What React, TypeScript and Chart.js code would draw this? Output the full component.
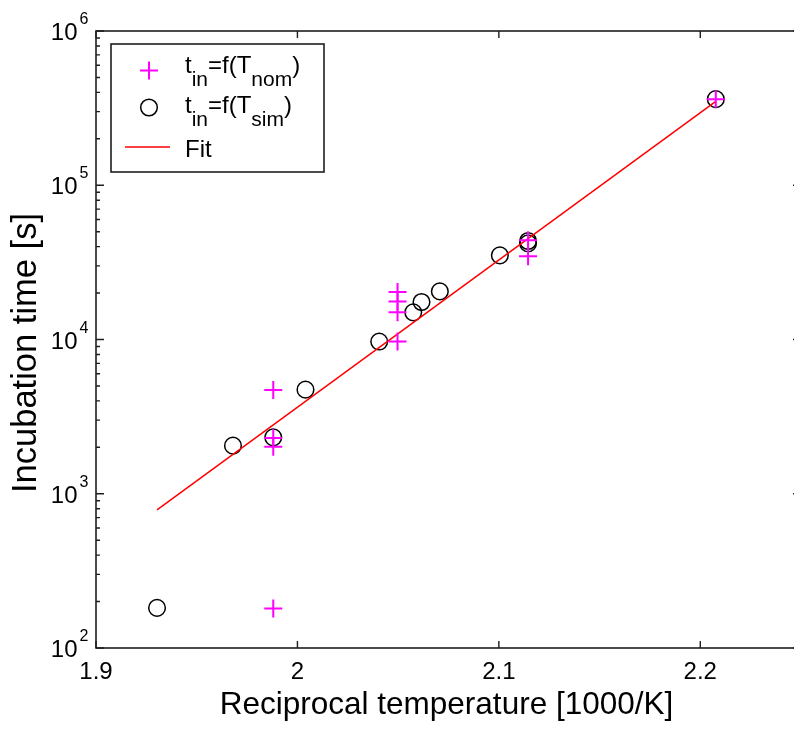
import React, { useEffect, useRef } from "react";
import { Chart, registerables } from "chart.js";

Chart.register(...registerables);

// ---- data ----
const NOM_X = [1.988, 1.988, 1.988, 1.988, 2.0497, 2.0497, 2.0497, 2.0497, 2.1145, 2.1145, 2.2077];
const NOM_Y = [180, 2020, 2300, 4710, 9700, 15000, 17650, 20300, 34600, 44000, 361500];

const SIM_X = [1.9303, 1.968, 1.988, 2.004, 2.0406, 2.0575, 2.0616, 2.0707, 2.1005, 2.1145, 2.1145, 2.2077];
const SIM_Y = [182, 2050, 2320, 4730, 9700, 15000, 17500, 20500, 35100, 43500, 42000, 361500];

const FIT_X = [1.9303, 2.2077];
const FIT_Y = [785, 350000];

const X_TICKS = [1.9, 2.0, 2.1, 2.2];
const X_TICK_LABELS = ["1.9", "2", "2.1", "2.2"];
const Y_DECADES = [2, 3, 4, 5, 6];

const X_TITLE = "Reciprocal temperature [1000/K]";
const Y_TITLE = "Incubation time [s]";

const LEGEND_NOM = [
  { t: "t", sub: false },
  { t: "in", sub: true },
  { t: "=f(T", sub: false },
  { t: "nom", sub: true },
  { t: ")", sub: false },
];
const LEGEND_SIM = [
  { t: "t", sub: false },
  { t: "in", sub: true },
  { t: "=f(T", sub: false },
  { t: "sim", sub: true },
  { t: ")", sub: false },
];
const LEGEND_FIT = [{ t: "Fit", sub: false }];

const FONT = '"Liberation Sans", Arial, Helvetica, sans-serif';
const MAGENTA = "#ff00ff";
const AXIS = "#1e1e1e";

function drawRich(ctx: CanvasRenderingContext2D, x: number, y: number, parts: { t: string; sub: boolean }[]) {
  let cx = x;
  for (const p of parts) {
    ctx.font = p.sub ? `21px ${FONT}` : `24px ${FONT}`;
    ctx.textAlign = "left";
    ctx.textBaseline = "alphabetic";
    ctx.fillText(p.t, cx, p.sub ? y + 13 : y);
    cx += ctx.measureText(p.t).width;
  }
}

const decorPlugin = {
  id: "matlabDecor",
  afterDraw(chart: any) {
    const ctx: CanvasRenderingContext2D = chart.ctx;
    const ca = chart.chartArea;
    const xs = chart.scales.x;
    const ys = chart.scales.y;
    ctx.save();

    // axes box
    ctx.strokeStyle = AXIS;
    ctx.lineWidth = 1.6;
    ctx.strokeRect(ca.left, ca.top, ca.right - ca.left, ca.bottom - ca.top);

    // x ticks (inward)
    ctx.lineWidth = 1.4;
    for (const v of X_TICKS) {
      const px = xs.getPixelForValue(v);
      ctx.beginPath();
      ctx.moveTo(px, ca.bottom);
      ctx.lineTo(px, ca.bottom - 7);
      ctx.moveTo(px, ca.top);
      ctx.lineTo(px, ca.top + 7);
      ctx.stroke();
    }
    // y ticks (inward, major + minor)
    for (const k of Y_DECADES) {
      for (let m = 1; m <= 9; m++) {
        if (k === 6 && m > 1) break;
        const py = ys.getPixelForValue(m * Math.pow(10, k));
        const len = m === 1 ? 8 : 4;
        ctx.beginPath();
        ctx.moveTo(ca.left, py);
        ctx.lineTo(ca.left + len, py);
        ctx.moveTo(ca.right, py);
        ctx.lineTo(ca.right - len, py);
        ctx.stroke();
      }
    }

    // x tick labels
    ctx.fillStyle = "#000";
    ctx.font = `24px ${FONT}`;
    ctx.textAlign = "center";
    ctx.textBaseline = "alphabetic";
    X_TICKS.forEach((v, i) => {
      ctx.fillText(X_TICK_LABELS[i], xs.getPixelForValue(v), ca.bottom + 31);
    });

    // y tick labels 10^k
    for (const k of Y_DECADES) {
      const py = ys.getPixelForValue(Math.pow(10, k));
      ctx.font = `24px ${FONT}`;
      ctx.textAlign = "right";
      ctx.fillText("10", ca.left - 18.5, py + 9);
      ctx.font = `16px ${FONT}`;
      ctx.textAlign = "left";
      ctx.fillText(String(k), ca.left - 16.5, py - 7);
    }

    // axis titles
    ctx.font = `31.5px ${FONT}`;
    ctx.textAlign = "center";
    ctx.fillText(X_TITLE, 446.5, 714);
    ctx.save();
    ctx.translate(36, 353);
    ctx.rotate(-Math.PI / 2);
    ctx.font = `34.5px ${FONT}`;
    ctx.fillText(Y_TITLE, 0, 0);
    ctx.restore();

    // legend
    const lx = 111, ly = 44, lw = 213, lh = 128;
    ctx.fillStyle = "#fff";
    ctx.fillRect(lx, ly, lw, lh);
    ctx.strokeStyle = AXIS;
    ctx.lineWidth = 1.6;
    ctx.strokeRect(lx, ly, lw, lh);

    // plus marker
    ctx.strokeStyle = MAGENTA;
    ctx.lineWidth = 2;
    ctx.beginPath();
    ctx.moveTo(140, 70.5);
    ctx.lineTo(158, 70.5);
    ctx.moveTo(149, 61.5);
    ctx.lineTo(149, 79.5);
    ctx.stroke();
    // circle marker
    ctx.strokeStyle = "#000";
    ctx.lineWidth = 1.5;
    ctx.beginPath();
    ctx.arc(149, 107.5, 8.3, 0, Math.PI * 2);
    ctx.stroke();
    // fit line
    ctx.strokeStyle = "#ff0000";
    ctx.lineWidth = 1.5;
    ctx.beginPath();
    ctx.moveTo(125, 147);
    ctx.lineTo(170, 147);
    ctx.stroke();

    ctx.fillStyle = "#000";
    drawRich(ctx, 185, 73, LEGEND_NOM);
    drawRich(ctx, 185, 113, LEGEND_SIM);
    drawRich(ctx, 185, 157, LEGEND_FIT);

    ctx.restore();
  },
};

export default function App() {
  const ref = useRef<HTMLCanvasElement | null>(null);

  useEffect(() => {
    if (!ref.current) return;
    const chart = new Chart(ref.current, {
      type: "scatter",
      data: {
        datasets: [
          {
            label: "nom",
            data: NOM_X.map((x, i) => ({ x, y: NOM_Y[i] })),
            pointStyle: "cross",
            pointRadius: 9,
            pointHoverRadius: 9,
            borderColor: MAGENTA,
            backgroundColor: MAGENTA,
            borderWidth: 2,
            showLine: false,
            order: 0,
          } as any,
          {
            type: "line",
            label: "Fit",
            data: FIT_X.map((x, i) => ({ x, y: FIT_Y[i] })),
            borderColor: "#ff0000",
            borderWidth: 1.5,
            pointRadius: 0,
            fill: false,
            order: 1,
          } as any,
          {
            label: "sim",
            data: SIM_X.map((x, i) => ({ x, y: SIM_Y[i] })),
            pointStyle: "circle",
            pointRadius: 8.3,
            pointHoverRadius: 8.3,
            borderColor: "#000",
            backgroundColor: "rgba(0,0,0,0)",
            borderWidth: 1.5,
            showLine: false,
            order: 2,
          } as any,
        ],
      },
      options: {
        animation: false,
        responsive: false,
        devicePixelRatio: 1,
        events: [],
        layout: { padding: { left: 0, top: 31, right: 29, bottom: 0 } },
        plugins: {
          legend: { display: false },
          tooltip: { enabled: false },
        },
        scales: {
          x: {
            type: "linear",
            min: 1.9,
            max: 2.25,
            grid: { display: false, drawTicks: false },
            border: { display: false },
            ticks: { display: false },
            afterFit: (s: any) => {
              s.height = 81;
            },
          },
          y: {
            type: "logarithmic",
            min: 100,
            max: 1000000,
            grid: { display: false, drawTicks: false },
            border: { display: false },
            ticks: { display: false },
            afterFit: (s: any) => {
              s.width = 96;
            },
          },
        },
      } as any,
      plugins: [decorPlugin],
    });
    return () => chart.destroy();
  }, []);

  return (
    <div
      style={{
        position: "absolute",
        left: 0,
        top: 0,
        width: 794,
        height: 729,
        overflow: "hidden",
        background: "#fff",
      }}
    >
      <canvas ref={ref} width={830} height={729} style={{ display: "block", width: 830, height: 729 }} />
    </div>
  );
}
